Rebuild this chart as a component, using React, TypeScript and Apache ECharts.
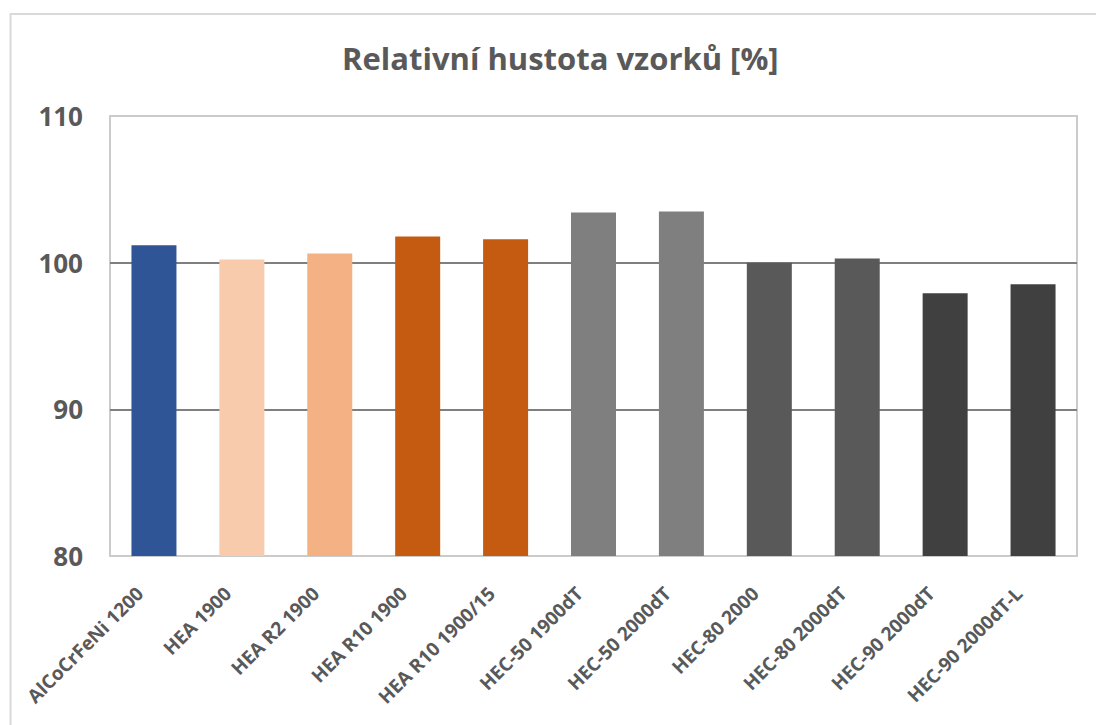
import React, { useEffect, useRef } from "react";
import * as echarts from "echarts";

const categories = [
  "AlCoCrFeNi 1200",
  "HEA 1900",
  "HEA R2 1900",
  "HEA R10 1900",
  "HEA R10 1900/15",
  "HEC-50 1900dT",
  "HEC-50 2000dT",
  "HEC-80 2000",
  "HEC-80 2000dT",
  "HEC-90 2000dT",
  "HEC-90 2000dT-L",
];

const densities = [101.18, 100.22, 100.63, 101.79, 101.59, 103.42, 103.49, 100.0, 100.29, 97.91, 98.52];

const barColors = [
  "#2F5597",
  "#F8CBAD",
  "#F4B183",
  "#C55A11",
  "#C55A11",
  "#7F7F7F",
  "#7F7F7F",
  "#595959",
  "#595959",
  "#404040",
  "#404040",
];

const yTicks = { min: 80, max: 110, interval: 10 };

const FONT = "'Open Sans', 'Noto Sans', sans-serif";

export default function App() {
  const ref = useRef<HTMLDivElement>(null);

  useEffect(() => {
    if (!ref.current) return;
    const chart = echarts.init(ref.current, null, { renderer: "svg" });
    chart.setOption({
      animation: false,
      backgroundColor: "#ffffff",
      title: {
        text: "Relativní hustota vzorků [%]",
        left: 337,
        top: 37,
        textStyle: {
          fontFamily: FONT,
          fontSize: 31,
          fontWeight: "bold",
          color: "#595959",
        },
      },
      graphic: [
        {
          type: "rect",
          shape: { x: 10.5, y: 14, width: 1200, height: 800 },
          style: { fill: "none", stroke: "#D9D9D9", lineWidth: 2 },
          silent: true,
        },
      ],
      grid: {
        left: 110,
        right: 19,
        top: 116,
        bottom: 169,
        show: true,
        borderColor: "#CBCBCB",
        borderWidth: 2,
      },
      xAxis: {
        type: "category",
        data: categories,
        axisLine: { show: false },
        axisTick: { show: false },
        axisLabel: {
          rotate: 45,
          interval: 0,
          margin: 20,
          padding: [0, 20, 0, 0],
          fontFamily: FONT,
          fontSize: 19,
          fontWeight: "bold",
          color: "#595959",
        },
      },
      yAxis: {
        type: "value",
        min: yTicks.min,
        max: yTicks.max,
        interval: yTicks.interval,
        axisLine: { show: false },
        axisTick: { show: false },
        axisLabel: {
          margin: 27,
          fontFamily: FONT,
          fontSize: 26,
          fontWeight: "bold",
          color: "#595959",
        },
        splitLine: {
          show: true,
          lineStyle: {
            color: ["#CBCBCB", "#7F7F7F", "#7F7F7F", "#CBCBCB"],
            width: 2,
          },
        },
      },
      series: [
        {
          type: "bar",
          data: densities.map((v, i) => ({ value: v, itemStyle: { color: barColors[i] } })),
          barWidth: 45,
        },
      ],
    });
    return () => chart.dispose();
  }, []);

  return (
    <div
      ref={ref}
      style={{ position: "fixed", left: 0, top: 0, width: 1096, height: 725 }}
    />
  );
}
